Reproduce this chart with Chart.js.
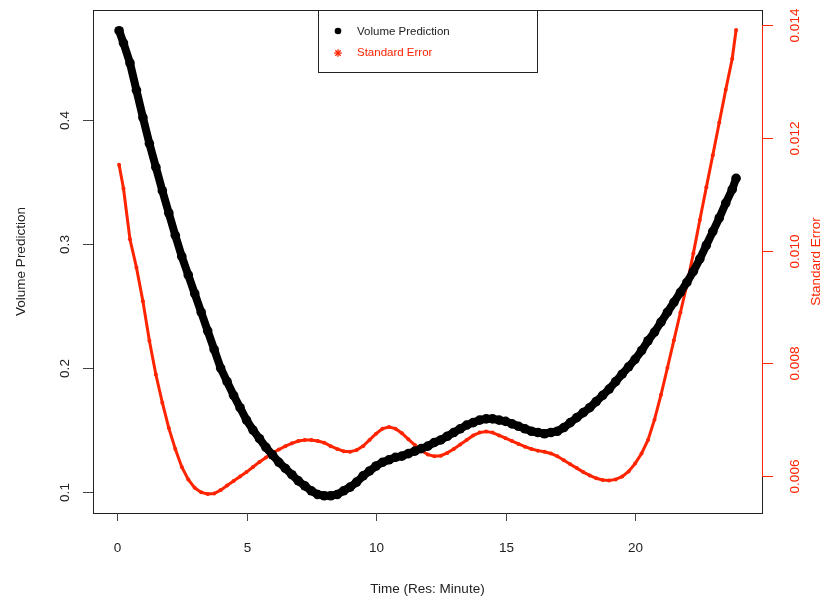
<!DOCTYPE html>
<html>
<head>
<meta charset="utf-8">
<script src="https://cdn.jsdelivr.net/npm/chart.js@4/dist/chart.umd.min.js"></script>
<style>
  body { margin: 0; background: #fff; }
  canvas { display: block; }
</style>
</head>
<body>
<canvas id="myChart" width="828" height="603"></canvas>
<script>
// time axis (hours) and the two series
const times = [0.08, 0.25, 0.5, 0.75, 1, 1.25, 1.5, 1.75, 2, 2.25, 2.5, 2.75, 3, 3.25, 3.5, 3.75,
  4, 4.25, 4.5, 4.75, 5, 5.25, 5.5, 5.75, 6, 6.25, 6.5, 6.75, 7, 7.25, 7.5, 7.75,
  8, 8.25, 8.5, 8.75, 9, 9.25, 9.5, 9.75, 10, 10.25, 10.5, 10.75, 11, 11.25, 11.5, 11.75,
  12, 12.25, 12.5, 12.75, 13, 13.25, 13.5, 13.75, 14, 14.25, 14.5, 14.75, 15, 15.25, 15.5, 15.75,
  16, 16.25, 16.5, 16.75, 17, 17.25, 17.5, 17.75, 18, 18.25, 18.5, 18.75, 19, 19.25, 19.5, 19.75,
  20, 20.25, 20.5, 20.75, 21, 21.25, 21.5, 21.75, 22, 22.25, 22.5, 22.75, 23, 23.25, 23.5, 23.75, 23.9];

const volumePrediction = [0.472, 0.462, 0.446, 0.424, 0.402, 0.381, 0.362, 0.343, 0.325, 0.307, 0.290, 0.275, 0.260, 0.245, 0.230, 0.215,
  0.200, 0.189, 0.178, 0.168, 0.158, 0.150, 0.143, 0.136, 0.130, 0.124, 0.119, 0.114, 0.109, 0.105, 0.101, 0.098,
  0.097, 0.097, 0.098, 0.101, 0.104, 0.108, 0.113, 0.117, 0.121, 0.124, 0.126, 0.128, 0.129, 0.131, 0.133, 0.135,
  0.137, 0.140, 0.142, 0.145, 0.148, 0.151, 0.154, 0.156, 0.158, 0.159, 0.159, 0.158, 0.157, 0.155, 0.153, 0.151,
  0.149, 0.148, 0.147, 0.148, 0.149, 0.152, 0.156, 0.160, 0.164, 0.168, 0.173, 0.178, 0.183, 0.189, 0.195, 0.201,
  0.207, 0.214, 0.222, 0.229, 0.237, 0.245, 0.253, 0.261, 0.269, 0.278, 0.288, 0.299, 0.310, 0.321, 0.333, 0.344, 0.353];

const standardError = [0.01152, 0.0111, 0.0102, 0.0097, 0.0091, 0.0084, 0.0078, 0.0073, 0.00685, 0.00648, 0.00616, 0.00594, 0.00579, 0.00571, 0.00568, 0.00569,
  0.00575, 0.00583, 0.00591, 0.00599, 0.00607, 0.00616, 0.00625, 0.00633, 0.00641, 0.00647, 0.00653, 0.00658, 0.00662, 0.00664, 0.00664, 0.00662,
  0.00659, 0.00653, 0.00648, 0.00644, 0.00643, 0.00646, 0.00653, 0.00664, 0.00675, 0.00684, 0.00687, 0.00684, 0.00676, 0.00665, 0.00655, 0.00645,
  0.00638, 0.00635, 0.00636, 0.00641, 0.00648, 0.00656, 0.00664, 0.00672, 0.00677, 0.00679, 0.00677, 0.00672, 0.00667, 0.00662, 0.00657, 0.00652,
  0.00648, 0.00645, 0.00643, 0.00640, 0.00635, 0.00628, 0.00621, 0.00614, 0.00607, 0.00601, 0.00596, 0.00593, 0.00592, 0.00594, 0.00599, 0.00608,
  0.00622, 0.00640, 0.00664, 0.00700, 0.00744, 0.00792, 0.00841, 0.00890, 0.00939, 0.00995, 0.01054, 0.01112, 0.01169, 0.01227, 0.01285, 0.01340, 0.01391];

const xTicks = [0, 5, 10, 15, 20];
const yTicks = [0.1, 0.2, 0.3, 0.4];
const seTicks = [0.006, 0.008, 0.010, 0.012, 0.014];
const seTickLabels = ['0.006', '0.008', '0.010', '0.012', '0.014'];

const RED = '#ff2400';
const FONT = '"Liberation Sans", Arial, sans-serif';

const toPoints = (ys) => times.map((t, i) => ({ x: t, y: ys[i] }));

// R style axes, box and legend drawn from the chart scales
const baseAxes = {
  id: 'baseAxes',
  afterDatasetsDraw(chart) {
    const ctx = chart.ctx;
    const a = chart.chartArea;
    const sx = chart.scales.x, sy = chart.scales.y, se = chart.scales.y2;
    ctx.save();

    // box
    ctx.strokeStyle = '#222';
    ctx.lineWidth = 1;
    ctx.strokeRect(a.left + 0.5, a.top + 0.5, a.right - a.left, a.bottom - a.top);

    ctx.font = '13.5px ' + FONT;
    ctx.textAlign = 'center';
    ctx.textBaseline = 'middle';

    // bottom axis
    ctx.strokeStyle = '#444';
    ctx.fillStyle = '#222';
    xTicks.forEach(v => {
      const px = Math.round(sx.getPixelForValue(v)) + 0.5;
      ctx.beginPath(); ctx.moveTo(px, a.bottom); ctx.lineTo(px, a.bottom + 8); ctx.stroke();
      ctx.fillText(String(v), px, a.bottom + 35);
    });
    ctx.fillText('Time (Res: Minute)', (a.left + a.right) / 2, a.bottom + 76);

    // left axis
    yTicks.forEach(v => {
      const py = Math.round(sy.getPixelForValue(v)) + 0.5;
      ctx.beginPath(); ctx.moveTo(a.left, py); ctx.lineTo(a.left - 10, py); ctx.stroke();
      ctx.save(); ctx.translate(a.left - 28, py); ctx.rotate(-Math.PI / 2);
      ctx.fillText(String(v), 0, 0); ctx.restore();
    });
    ctx.save(); ctx.translate(21, (a.top + a.bottom) / 2); ctx.rotate(-Math.PI / 2);
    ctx.fillText('Volume Prediction', 0, 0); ctx.restore();

    // right axis (red)
    ctx.strokeStyle = RED;
    ctx.fillStyle = RED;
    const top = se.getPixelForValue(seTicks[seTicks.length - 1]);
    const bot = se.getPixelForValue(seTicks[0]);
    ctx.beginPath(); ctx.moveTo(a.right + 0.5, top); ctx.lineTo(a.right + 0.5, bot); ctx.stroke();
    seTicks.forEach((v, i) => {
      const py = Math.round(se.getPixelForValue(v)) + 0.5;
      ctx.beginPath(); ctx.moveTo(a.right, py); ctx.lineTo(a.right + 11, py); ctx.stroke();
      ctx.save(); ctx.translate(a.right + 33, py); ctx.rotate(-Math.PI / 2);
      ctx.fillText(seTickLabels[i], 0, 0); ctx.restore();
    });
    ctx.save(); ctx.translate(816, (a.top + a.bottom) / 2); ctx.rotate(-Math.PI / 2);
    ctx.fillText('Standard Error', 0, 0); ctx.restore();

    // legend
    const lx = 318, ly = a.top, lw = 219, lh = 62;
    ctx.fillStyle = '#fff';
    ctx.fillRect(lx, ly, lw, lh);
    ctx.strokeStyle = '#222';
    ctx.strokeRect(lx + 0.5, ly + 0.5, lw, lh);
    ctx.font = '11.5px ' + FONT;
    ctx.textAlign = 'left';
    ctx.fillStyle = '#000';
    ctx.beginPath(); ctx.arc(338, 31, 3.3, 0, Math.PI * 2); ctx.fill();
    ctx.fillStyle = '#222';
    ctx.fillText('Volume Prediction', 357, 32);
    ctx.strokeStyle = RED;
    ctx.lineWidth = 1.3;
    for (let k = 0; k < 4; k++) {
      const ang = k * Math.PI / 4;
      ctx.beginPath();
      ctx.moveTo(338 - 3.8 * Math.cos(ang), 53 - 3.8 * Math.sin(ang));
      ctx.lineTo(338 + 3.8 * Math.cos(ang), 53 + 3.8 * Math.sin(ang));
      ctx.stroke();
    }
    ctx.fillStyle = RED;
    ctx.fillText('Standard Error', 357, 53);

    ctx.restore();
  }
};

const ctx = document.getElementById('myChart').getContext('2d');
const myChart = new Chart(ctx, {
  type: 'scatter',
  data: {
    datasets: [{
      label: 'Volume Prediction',
      data: toPoints(volumePrediction),
      yAxisID: 'y',
      showLine: true,
      borderColor: '#000',
      borderWidth: 8,
      backgroundColor: '#000',
      pointRadius: 4.8,
      pointBorderWidth: 0
    }, {
      label: 'Standard Error',
      data: toPoints(standardError),
      yAxisID: 'y2',
      showLine: true,
      borderColor: RED,
      borderWidth: 3,
      backgroundColor: RED,
      pointRadius: 2,
      pointBorderWidth: 0
    }]
  },
  options: {
    responsive: false,
    animation: false,
    layout: { padding: { left: 93, right: 66, top: 10, bottom: 90 } },
    plugins: { legend: { display: false }, tooltip: { enabled: false } },
    scales: {
      x: { type: 'linear', min: -0.927, max: 24.9, display: false },
      y: { type: 'linear', min: 0.0831, max: 0.4887, display: false },
      y2: { type: 'linear', position: 'right', min: 0.005344, max: 0.014266, display: false }
    }
  },
  plugins: [baseAxes]
});
</script>
</body>
</html>
